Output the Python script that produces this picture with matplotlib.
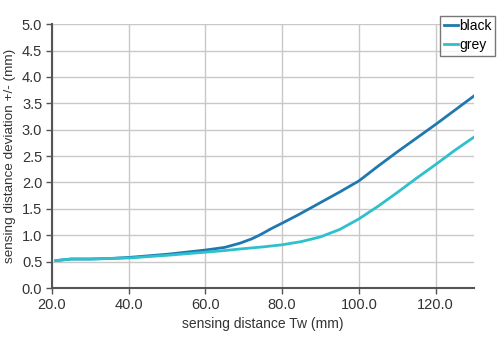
import numpy as np
import matplotlib.pyplot as plt

plt.rcParams['font.family'] = ['Liberation Sans', 'DejaVu Sans']

# sensing distance Tw (mm) and deviation (mm) for the two target colours
x_black = [21, 25, 30, 35, 40, 45, 50, 55, 60, 65, 69, 72, 74.3, 77, 80, 84, 88, 92.5, 95, 100, 105, 110, 115, 120, 125, 130]
y_black = [0.52, 0.55, 0.55, 0.56, 0.58, 0.61, 0.64, 0.68, 0.72, 0.77, 0.85, 0.93, 1.01, 1.12, 1.23, 1.38, 1.54, 1.72, 1.82, 2.03, 2.31, 2.58, 2.84, 3.10, 3.37, 3.64]
x_grey = [21, 25, 30, 40, 50, 60, 65, 69, 75, 80, 85, 90, 95, 100, 105, 110, 115, 120, 125, 130]
y_grey = [0.52, 0.55, 0.55, 0.57, 0.62, 0.68, 0.71, 0.74, 0.78, 0.82, 0.88, 0.97, 1.11, 1.31, 1.55, 1.81, 2.08, 2.34, 2.61, 2.86]

fig = plt.figure(figsize=(5, 3.5), dpi=100)
ax = fig.add_axes([0.104, 0.177, 0.844, 0.754])

ax.plot(x_black, y_black, color='#1f78b0', lw=2, label='black', solid_joinstyle='round')
ax.plot(x_grey, y_grey, color='#2ec0cc', lw=2, label='grey', solid_joinstyle='round')

ax.set_xlim(20, 130)
ax.set_ylim(0, 5)
ax.set_xticks(np.arange(20, 121, 20))
ax.set_xticklabels([f'{v:.1f}' for v in np.arange(20, 121, 20)])
ax.set_yticks(np.arange(0, 5.01, 0.5))
ax.set_yticklabels([f'{v:.1f}' for v in np.arange(0, 5.01, 0.5)])
ax.grid(True, color='#c8c8c8', lw=1)
ax.set_axisbelow(True)
for s in ['top', 'right']:
    ax.spines[s].set_visible(False)
for s in ['left', 'bottom']:
    ax.spines[s].set_color('#555555')
    ax.spines[s].set_linewidth(1.5)
ax.tick_params(colors='#555555', labelcolor='#333333', labelsize=10.5, length=4, width=1, pad=3)

ax.set_xlabel('sensing distance Tw (mm)', fontsize=10, color='#333333', labelpad=4)
ax.set_ylabel('sensing distance deviation +/- (mm)', fontsize=9.7, color='#333333', labelpad=4)

leg = fig.legend(loc='upper right', bbox_to_anchor=(0.99, 0.955), fontsize=10,
                 handlelength=1.0, handletextpad=0.1, borderpad=0.25, labelspacing=0.35,
                 fancybox=False, frameon=True, borderaxespad=0)
leg.get_frame().set_edgecolor('#555555')
leg.get_frame().set_linewidth(1)

fig.savefig('out.png', dpi=100)
